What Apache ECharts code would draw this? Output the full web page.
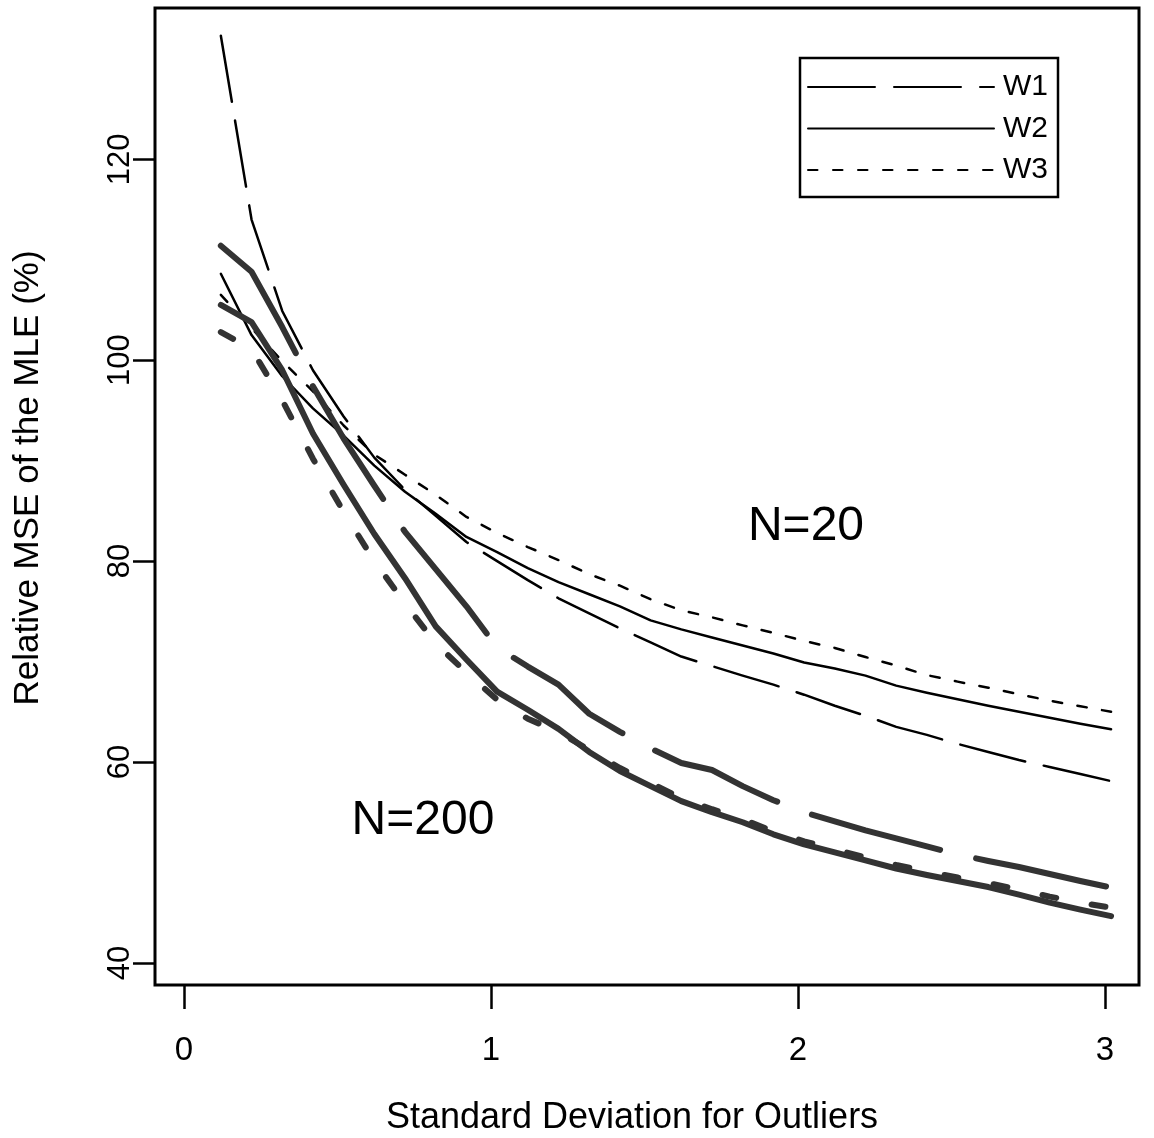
<!DOCTYPE html>
<html><head><meta charset="utf-8">
<script src="https://cdn.jsdelivr.net/npm/echarts@6/dist/echarts.min.js"></script>
<style>html,body{margin:0;padding:0;background:#fff}#c{width:1154px;height:1138px}</style>
</head><body><div id="c"></div>
<script>
// x positions (standard deviation for outliers)
const sdValues = [0.12, 0.22, 0.32, 0.42, 0.52, 0.62, 0.72, 0.82, 0.92, 1.02,
                  1.12, 1.22, 1.32, 1.42, 1.52, 1.62, 1.72, 1.82, 1.92, 2.02,
                  2.12, 2.22, 2.32, 2.42, 2.52, 2.62, 2.72, 2.82, 2.92, 3.02];
const xTickValues = [0, 1, 2, 3];
const yTickValues = [40, 60, 80, 100, 120];
const seriesNames = ['W1', 'W2', 'W3'];

// N = 20 (thin lines)
const n20W1 = [132.3, 114.0, 104.9, 99.0, 94.4, 90.3, 87.1, 84.5, 81.9, 80.0,
               78.1, 76.3, 74.8, 73.3, 71.9, 70.5, 69.55, 68.6, 67.7, 66.7,
               65.6, 64.6, 63.5, 62.7, 61.8, 61.0, 60.2, 59.5, 58.8, 58.1];
const n20W2 = [108.6, 102.5, 98.4, 95.2, 92.5, 89.5, 86.9, 84.7, 82.4, 80.9,
               79.3, 77.9, 76.7, 75.5, 74.1, 73.2, 72.4, 71.6, 70.8, 69.9,
               69.3, 68.6, 67.6, 66.9, 66.25, 65.6, 65.0, 64.4, 63.8, 63.25];
const n20W3 = [106.5, 103.2, 99.9, 96.9, 93.5, 90.6, 88.6, 86.6, 84.4, 82.8,
               81.4, 80.1, 78.7, 77.55, 76.2, 75.1, 74.4, 73.6, 72.85, 72.05,
               71.35, 70.45, 69.6, 68.65, 68.0, 67.4, 66.75, 66.1, 65.55, 65.0];
// N = 200 (thick lines)
const n200W1 = [111.4, 108.8, 103.3, 97.4, 92.2, 87.5, 82.9, 79.2, 75.5, 71.4,
                69.5, 67.7, 64.8, 63.0, 61.35, 59.9, 59.2, 57.6, 56.2, 55.0,
                54.1, 53.2, 52.4, 51.6, 50.8, 50.15, 49.55, 48.85, 48.15, 47.5];
const n200W2 = [105.5, 103.8, 99.0, 92.7, 87.6, 82.7, 78.3, 73.5, 70.2, 67.0,
                65.2, 63.3, 61.0, 59.1, 57.6, 56.1, 55.0, 54.0, 52.8, 51.8,
                51.0, 50.2, 49.4, 48.75, 48.15, 47.55, 46.8, 46.0, 45.3, 44.65];
const n200W3 = [102.8, 101.1, 96.0, 90.2, 84.9, 80.0, 75.8, 71.8, 68.9, 66.2,
                64.3, 63.0, 61.2, 59.4, 57.9, 56.4, 55.3, 54.3, 53.1, 52.1,
                51.3, 50.5, 49.75, 49.1, 48.5, 47.95, 47.3, 46.6, 46.0, 45.5];

const FONT = '"Liberation Sans", Arial, Helvetica, sans-serif';
function pairs(ys) { return sdValues.map((x, i) => [x, ys[i]]); }

function lineSeries(name, ys, width, color, dash) {
  return {
    type: 'line', name: name, data: pairs(ys),
    symbol: 'none', showSymbol: false, smooth: false, silent: true,
    itemStyle: { color: color, opacity: 0 },
    lineStyle: { width: width, color: color, type: dash || 'solid', cap: 'round', join: 'round' },
    emphasis: { disabled: true }
  };
}

const chart = echarts.init(document.getElementById('c'), null, { renderer: 'canvas' });
chart.setOption({
  animation: false,
  backgroundColor: '#fff',
  grid: { left: 155, top: 8, right: 15, bottom: 153, show: true,
          borderColor: '#000', borderWidth: 3, backgroundColor: 'transparent' },
  xAxis: {
    type: 'value', min: -0.0945, max: 3.111,
    axisLine: { show: false, onZero: false },
    splitLine: { show: false },
    axisTick: { show: true, length: 24, inside: false, customValues: xTickValues,
                lineStyle: { color: '#000', width: 2.5 } },
    axisLabel: { customValues: xTickValues, margin: 49, fontSize: 33,
                 color: '#000', fontFamily: FONT }
  },
  yAxis: {
    type: 'value', min: 37.8, max: 135.06,
    axisLine: { show: false, onZero: false },
    splitLine: { show: false },
    axisTick: { show: true, length: 22, inside: false, customValues: yTickValues,
                lineStyle: { color: '#000', width: 2.5 } },
    axisLabel: { customValues: yTickValues, rotate: 90, margin: 19, fontSize: 31,
                 color: '#000', fontFamily: FONT }
  },
  legend: {
    data: seriesNames,
    orient: 'vertical', left: 800, top: 58,
    padding: [14, 10, 12, 7], itemGap: 11.5,
    itemWidth: 186, itemHeight: 14,
    borderColor: '#000', borderWidth: 2.5, borderRadius: 0,
    backgroundColor: '#fff',
    selectedMode: false,
    itemStyle: { opacity: 0 },
    textStyle: { fontSize: 30, lineHeight: 30, color: '#000', fontFamily: FONT, padding: [0, 0, 0, 4] }
  },
  series: [
    lineSeries('W1', n20W1, 2.5, '#000', [67, 19]),
    lineSeries('W2', n20W2, 2.5, '#000', 'solid'),
    lineSeries('W3', n20W3, 2.5, '#000', [9.5, 15.5]),
    lineSeries('W1', n200W1, 6, '#333', [133, 37]),
    lineSeries('W2', n200W2, 6, '#333', 'solid'),
    lineSeries('W3', n200W3, 6, '#333', [14, 36])
  ],
  graphic: [
    { type: 'text', x: 632, y: 1118,
      style: { text: 'Standard Deviation for Outliers', font: '36px ' + FONT,
               fill: '#000', align: 'center', verticalAlign: 'middle' } },
    { type: 'text', x: 28, y: 478, rotation: Math.PI / 2,
      style: { text: 'Relative MSE of the MLE (%)', font: '35px ' + FONT,
               fill: '#000', align: 'center', verticalAlign: 'middle' } },
    { type: 'text', x: 806, y: 527,
      style: { text: 'N=20', font: '48px ' + FONT, fill: '#000',
               align: 'center', verticalAlign: 'middle' } },
    { type: 'text', x: 423, y: 821,
      style: { text: 'N=200', font: '48px ' + FONT, fill: '#000',
               align: 'center', verticalAlign: 'middle' } }
  ]
});
</script></body></html>
